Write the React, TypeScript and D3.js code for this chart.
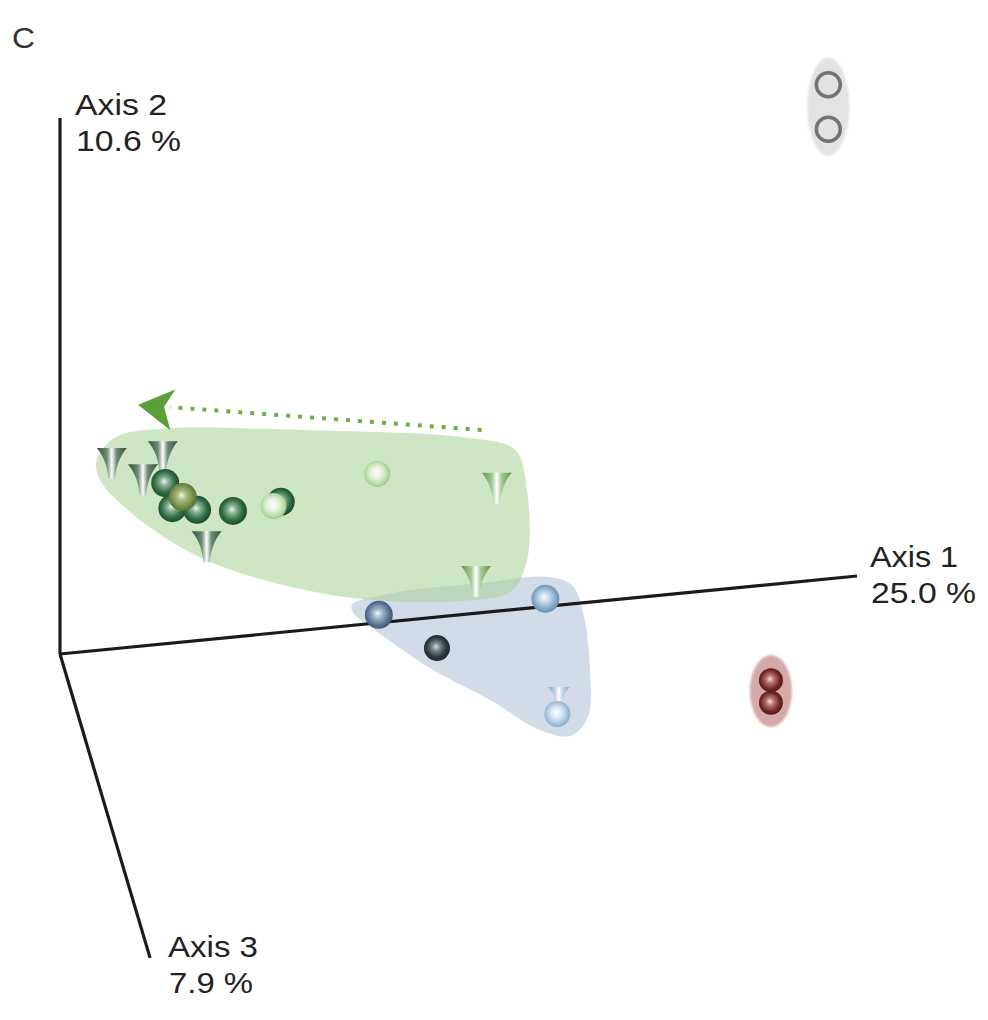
import React from "react";
import * as d3 from "d3";

// Projected ordination coordinates (view plane, origin at axis intersection)
const axisNames = ["Axis 1", "Axis 2", "Axis 3"];
const axisPercents = ["25.0 %", "10.6 %", "7.9 %"];
const axisEnds: [number, number][] = [
  [1.0, 0.1455],
  [0.0, 1.0],
  [0.113, -0.567],
];

type Sample = { id: string; kind: "sphere" | "cone" | "ring"; style: string; x: number; y: number };

// Green cluster
const greenCones: Sample[] = [
  { id: "g_c1", kind: "cone", style: "coneDark", x: 0.065, y: 0.358 },
  { id: "g_c2", kind: "cone", style: "coneDark", x: 0.129, y: 0.371 },
  { id: "g_c3", kind: "cone", style: "coneDark", x: 0.104, y: 0.328 },
  { id: "g_c4", kind: "cone", style: "coneDark", x: 0.184, y: 0.203 },
  { id: "g_c5", kind: "cone", style: "coneGreen", x: 0.548, y: 0.312 },
  { id: "g_c6", kind: "cone", style: "coneGreen", x: 0.522, y: 0.138 },
];
const greenSpheres: Sample[] = [
  { id: "g_s1", kind: "sphere", style: "darkGreen", x: 0.132, y: 0.319 },
  { id: "g_s3", kind: "sphere", style: "darkGreen", x: 0.141, y: 0.272 },
  { id: "g_s4", kind: "sphere", style: "darkGreen", x: 0.172, y: 0.269 },
  { id: "g_s2", kind: "sphere", style: "olive", x: 0.154, y: 0.293 },
  { id: "g_s5", kind: "sphere", style: "darkGreen", x: 0.217, y: 0.267 },
  { id: "g_s6", kind: "sphere", style: "darkGreen", x: 0.277, y: 0.284 },
  { id: "g_s7", kind: "sphere", style: "lightGreen", x: 0.268, y: 0.276 },
  { id: "g_s8", kind: "sphere", style: "paleGreen", x: 0.398, y: 0.336 },
];

// Blue cluster
const blueCones: Sample[] = [
  { id: "b_c1", kind: "cone", style: "coneBlue", x: 0.626, y: -0.08 },
];
const blueSpheres: Sample[] = [
  { id: "b_s1", kind: "sphere", style: "blue", x: 0.4, y: 0.073 },
  { id: "b_s2", kind: "sphere", style: "lightBlue", x: 0.609, y: 0.103 },
  { id: "b_s3", kind: "sphere", style: "slate", x: 0.473, y: 0.011 },
  { id: "b_s4", kind: "sphere", style: "paleBlue", x: 0.624, y: -0.112 },
];

// Grey and red pairs
const greySamples: Sample[] = [
  { id: "k_1", kind: "ring", style: "grey", x: 0.964, y: 1.062 },
  { id: "k_2", kind: "ring", style: "grey", x: 0.964, y: 0.979 },
];
const redSamples: Sample[] = [
  { id: "r_1", kind: "sphere", style: "red", x: 0.892, y: -0.049 },
  { id: "r_2", kind: "sphere", style: "red", x: 0.892, y: -0.091 },
];

// Group envelopes
const greenHull: [number, number][] = [
  [0.046, 0.362], [0.07, 0.405], [0.125, 0.42], [0.301, 0.418], [0.514, 0.403],
  [0.571, 0.381], [0.586, 0.306], [0.586, 0.175], [0.565, 0.116], [0.502, 0.099],
  [0.376, 0.103], [0.251, 0.14], [0.163, 0.19], [0.088, 0.265], [0.05, 0.325],
];
const blueHull: [number, number][] = [
  [0.366, 0.091], [0.427, 0.116], [0.527, 0.132], [0.609, 0.144], [0.642, 0.129],
  [0.657, 0.073], [0.665, -0.03], [0.662, -0.119], [0.64, -0.153], [0.602, -0.142],
  [0.54, -0.086], [0.464, -0.026], [0.395, 0.045], [0.37, 0.073],
];
const greyEnvelope = { x: 0.964, y: 1.021 };
const redEnvelope = { x: 0.892, y: -0.069 };

// Trajectory arrow
const arrowStart: [number, number] = [0.529, 0.418];
const arrowTip: [number, number] = [0.098, 0.465];

const W = 988;
const H = 1020;
const xScale = d3.scaleLinear().domain([0, 1]).range([60, 857]);
const yScale = d3.scaleLinear().domain([0, 1]).range([654, 118]);

const sphereGrad: Record<string, [number, string][]> = {
  darkGreen: [[0, "#eef5f0"], [0.3, "#86b090"], [0.72, "#2f6c42"], [1, "#1c4d2c"]],
  olive: [[0, "#f2f5dc"], [0.32, "#aabb80"], [0.78, "#708a46"], [1, "#56703a"]],
  lightGreen: [[0, "#ffffff"], [0.45, "#e4f3dc"], [0.85, "#b2dba4"], [1, "#98c889"]],
  paleGreen: [[0, "#ffffff"], [0.45, "#e2f1da"], [0.8, "#b8dcaa"], [1, "#9ccb8c"]],
  blue: [[0, "#f2f6fa"], [0.32, "#a2b7cc"], [0.78, "#54708e"], [1, "#3f5a78"]],
  lightBlue: [[0, "#f8fbfd"], [0.4, "#bcd3e6"], [0.82, "#7aa2c4"], [1, "#6590b6"]],
  paleBlue: [[0, "#ffffff"], [0.45, "#d6e5f1"], [0.85, "#9cbcd6"], [1, "#88aecc"]],
  slate: [[0, "#dde1e3"], [0.28, "#808a8e"], [0.72, "#2e3a40"], [1, "#1e282d"]],
  red: [[0, "#f4e0e0"], [0.32, "#b47474"], [0.76, "#702626"], [1, "#561818"]],
};
const coneGrad: Record<string, string[]> = {
  coneDark: ["#2f4d37", "#6f8c76", "#ffffff", "#6f8c76", "#2f4d37"],
  coneGreen: ["#5a9846", "#a4ca94", "#ffffff", "#a4ca94", "#5a9846"],
  coneBlue: ["#8aa8c2", "#c8d8e6", "#ffffff", "#c8d8e6", "#8aa8c2"],
};
const sphereR: Record<string, number> = {
  darkGreen: 14, olive: 14, lightGreen: 13, paleGreen: 13,
  blue: 14, lightBlue: 14, paleBlue: 13, slate: 13, red: 12,
};

const conePath = "M-15,-14 L15,-14 C10,-8 5,0 3,17 L-3,17 C-5,0 -10,-8 -15,-14 Z";

function Mark({ s, scale = 1 }: { s: Sample; scale?: number }) {
  const cx = xScale(s.x);
  const cy = yScale(s.y);
  if (s.kind === "cone") {
    return (
      <path
        d={conePath}
        transform={`translate(${cx},${cy}) scale(${scale})`}
        fill={`url(#cg-${s.style})`}
      />
    );
  }
  if (s.kind === "ring") {
    return <circle cx={cx} cy={cy} r={12} fill="#e2e2e2" stroke="#737373" strokeWidth={3.5} />;
  }
  return <circle cx={cx} cy={cy} r={sphereR[s.style]} fill={`url(#sg-${s.style})`} />;
}

export default function App() {
  const hullLine = d3
    .line<[number, number]>()
    .x((d) => xScale(d[0]))
    .y((d) => yScale(d[1]))
    .curve(d3.curveCatmullRomClosed.alpha(0.5));

  const origin: [number, number] = [xScale(0), yScale(0)];
  const labelFont = "'Liberation Sans', Arial, Helvetica, sans-serif";

  // dotted trajectory stops short of the arrowhead
  const ax0 = xScale(arrowStart[0]);
  const ay0 = yScale(arrowStart[1]);
  const tx = xScale(arrowTip[0]);
  const ty = yScale(arrowTip[1]);
  const ang = Math.atan2(ty - ay0, tx - ax0);
  const lineEndX = tx - Math.cos(ang) * 32;
  const lineEndY = ty - Math.sin(ang) * 32;
  const deg = (ang * 180) / Math.PI;

  const labelPos = [
    { x: 870, y: 567, w1: 88, w2: 105 },
    { x: 75, y: 115, w1: 92, w2: 105 },
    { x: 168, y: 957, w1: 90, w2: 84 },
  ];

  return (
    <svg width={W} height={H} style={{ position: "absolute", left: 0, top: 0 }}>
      <defs>
        {Object.entries(sphereGrad).map(([k, stops]) => (
          <radialGradient key={k} id={`sg-${k}`} cx="48%" cy="48%" r="52%" fx="46%" fy="44%">
            {stops.map(([o, c], i) => (
              <stop key={i} offset={o} stopColor={c} />
            ))}
          </radialGradient>
        ))}
        {Object.entries(coneGrad).map(([k, cols]) => (
          <linearGradient key={k} id={`cg-${k}`} x1="0" x2="1" y1="0" y2="0">
            {cols.map((c, i) => (
              <stop key={i} offset={[0, 0.34, 0.5, 0.66, 1][i]} stopColor={c} />
            ))}
          </linearGradient>
        ))}
        <filter id="soft" x="-30%" y="-30%" width="160%" height="160%">
          <feGaussianBlur stdDeviation="1.2" />
        </filter>
      </defs>
      <rect width={W} height={H} fill="#ffffff" />

      <text x={12} y={48} fontFamily={labelFont} fontSize={30} fill="#333" textLength={23} lengthAdjust="spacingAndGlyphs">C</text>

      {/* group envelopes */}
      <path d={hullLine(blueHull) ?? ""} fill="#b4c3d8" fillOpacity={0.6} />
      <path d={hullLine(greenHull) ?? ""} fill="#a8d193" fillOpacity={0.55} />
      <ellipse cx={xScale(greyEnvelope.x)} cy={yScale(greyEnvelope.y)} rx={21} ry={49} fill="#e3e3e3" filter="url(#soft)" />
      <ellipse cx={xScale(redEnvelope.x)} cy={yScale(redEnvelope.y)} rx={21} ry={36} fill="#d6a9a9" filter="url(#soft)" />

      {/* axes */}
      {axisEnds.map((e, i) => (
        <line
          key={i}
          x1={origin[0]}
          y1={origin[1]}
          x2={xScale(e[0])}
          y2={yScale(e[1])}
          stroke="#1b1b1b"
          strokeWidth={3.2}
          strokeLinecap="butt"
        />
      ))}
      {axisNames.map((n, i) => (
        <g key={n} fontFamily={labelFont} fontSize={29} fill="#222">
          <text x={labelPos[i].x} y={labelPos[i].y} textLength={labelPos[i].w1} lengthAdjust="spacingAndGlyphs">
            {n}
          </text>
          <text x={labelPos[i].x + 1} y={labelPos[i].y + 36} textLength={labelPos[i].w2} lengthAdjust="spacingAndGlyphs">
            {axisPercents[i]}
          </text>
        </g>
      ))}

      {/* trajectory arrow */}
      <line
        x1={ax0}
        y1={ay0}
        x2={lineEndX}
        y2={lineEndY}
        stroke="#6aaf4c"
        strokeWidth={4}
        strokeDasharray="4 8"
      />
      <path
        d="M0,0 L36,-18 L26,0 L34,23 Z"
        transform={`translate(${tx},${ty}) rotate(${deg + 180})`}
        fill="#5a9f38"
      />

      {/* samples */}
      {greenCones.map((s) => <Mark key={s.id} s={s} />)}
      {greenSpheres.map((s) => <Mark key={s.id} s={s} />)}
      {blueCones.map((s) => <Mark key={s.id} s={s} scale={0.7} />)}
      {blueSpheres.map((s) => <Mark key={s.id} s={s} />)}
      {greySamples.map((s) => <Mark key={s.id} s={s} />)}
      {redSamples.map((s) => <Mark key={s.id} s={s} />)}
    </svg>
  );
}
